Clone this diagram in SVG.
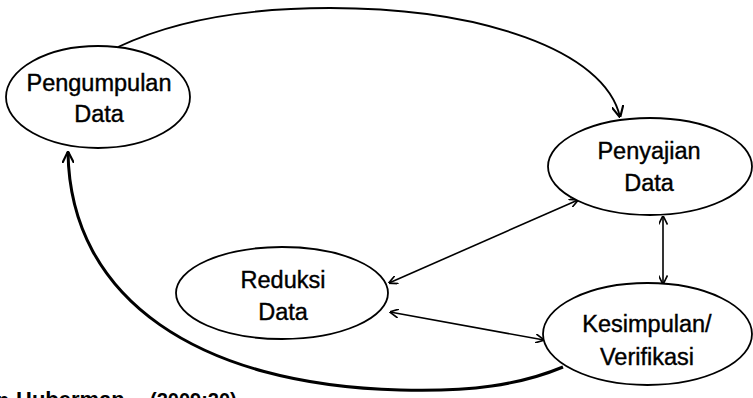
<svg xmlns="http://www.w3.org/2000/svg" width="753" height="398" viewBox="0 0 753 398">
<defs>
<style>
.n ellipse{fill:#fff;stroke:#000;stroke-width:1.8}
.n text{font-family:"Liberation Sans",Arial,sans-serif;font-size:23.5px;fill:#000;stroke:#000;stroke-width:0.4;text-anchor:middle}
.c path{fill:none;stroke:#000;stroke-width:1.6}
.src{font-family:"Liberation Sans",Arial,sans-serif;font-size:20px;font-weight:bold;fill:#000}
</style>
<marker id="a" viewBox="0 0 10 10" refX="9.5" refY="5" markerWidth="9" markerHeight="9" markerUnits="userSpaceOnUse" orient="auto-start-reverse">
<path d="M0,0 L10,5 L0,10" fill="none" stroke="#000" stroke-width="1.8"/>
</marker>
<marker id="b" viewBox="0 0 10 10" refX="9.5" refY="5" markerWidth="12" markerHeight="12" markerUnits="userSpaceOnUse" orient="auto-start-reverse">
<path d="M0,0 L10,5 L0,10" fill="none" stroke="#000" stroke-width="1.8"/>
</marker>
</defs>
<rect width="753" height="398" fill="#fff"/>
<g class="c" id="connectors">
<path d="M118,47 Q200,8 330,8 C480,8 605,50 620,117" marker-end="url(#b)" style="stroke-width:1.8"/>
<path d="M563,367 C520,385 470,392 400,390 C200,385 70,300 68,152" marker-end="url(#b)" style="stroke-width:3"/>
<path d="M389,283 L578,200" marker-start="url(#a)" marker-end="url(#a)"/>
<path d="M390,312 L544,340" marker-start="url(#a)" marker-end="url(#a)"/>
<path d="M663,216 L663,284" marker-start="url(#a)" marker-end="url(#a)"/>
</g>
<g class="n" id="pengumpulan">
<ellipse cx="98" cy="97" rx="92" ry="51"/>
<text x="99" y="91">Pengumpulan</text>
<text x="99" y="122">Data</text>
</g>
<g class="n" id="penyajian">
<ellipse cx="650" cy="166.5" rx="102" ry="48.5"/>
<text x="649" y="159">Penyajian</text>
<text x="649" y="191">Data</text>
</g>
<g class="n" id="reduksi">
<ellipse cx="282" cy="293" rx="106" ry="46"/>
<text x="283" y="288">Reduksi</text>
<text x="283" y="320">Data</text>
</g>
<g class="n" id="kesimpulan">
<ellipse cx="647.5" cy="334" rx="104.5" ry="51"/>
<text x="647" y="332">Kesimpulan/</text>
<text x="647" y="365">Verifikasi</text>
</g>
<text class="src" y="407"><tspan x="9" text-anchor="end">dan</tspan><tspan x="16" style="font-size:22px">Huberman</tspan><tspan x="150">(2009:20)</tspan></text>
</svg>
